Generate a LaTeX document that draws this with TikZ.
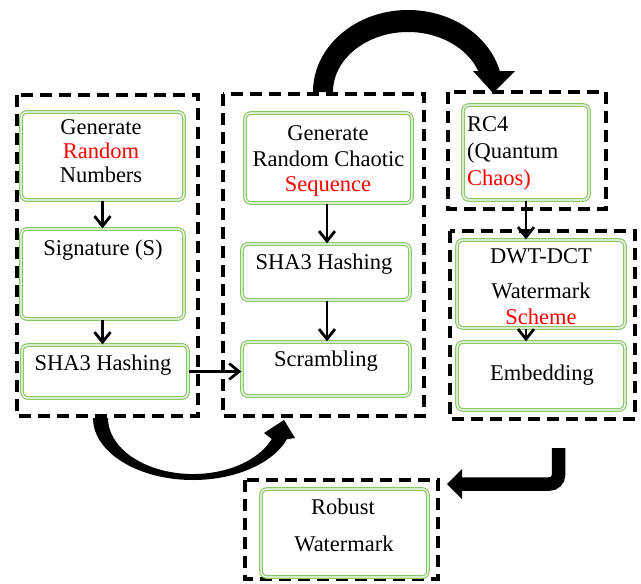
\documentclass[tikz,border=0pt]{standalone}
\usepackage{fontspec}
\setmainfont{Liberation Serif}
\usetikzlibrary{arrows.meta}
\definecolor{boxgreen}{RGB}{140,200,105}
\definecolor{hlred}{RGB}{255,0,0}
\begin{document}
\begin{tikzpicture}[x=1pt,y=-1pt,
  stage/.style={draw=black, line width=4pt, dash pattern=on 12pt off 7pt},
  gbox/.style={draw=boxgreen, double=white, line width=1.3pt, double distance=1.2pt,
               rounded corners=6pt, inner sep=0pt},
  txt/.style={font=\fontsize{22.5}{27}\selectfont, inner sep=0pt, anchor=base},
  hot/.style={txt, text=hlred},
  flow/.style={draw=black, line width=2.8pt, -{Straight Barb[length=10pt,width=16pt]}},
  block/.style={fill=black, draw=none}
]
\useasboundingbox (0,0) rectangle (641,584);

% dashed stage frames
\draw[stage] (17,95) rectangle (198,416);
\draw[stage] (223,94) rectangle (424,416);
\draw[stage] (448,92) rectangle (606,209);
\draw[stage] (450,231) rectangle (635,419);
\draw[stage] (245,480) rectangle (438,579);

% green process boxes
\node[gbox, minimum width=163pt, minimum height=88pt] (g1a) at (102.5,156) {};
\node[gbox, minimum width=163pt, minimum height=90pt] (g1b) at (102.5,274) {};
\node[gbox, minimum width=166pt, minimum height=53pt] (g1c) at (105,371.5) {};
\node[gbox, minimum width=167pt, minimum height=90pt] (g2a) at (328.5,158) {};
\node[gbox, minimum width=168pt, minimum height=56pt] (g2b) at (326,272) {};
\node[gbox, minimum width=168pt, minimum height=54pt] (g2c) at (326,369) {};
\node[gbox, minimum width=126pt, minimum height=95pt] (g3)  at (526,152.5) {};
\node[gbox, minimum width=168pt, minimum height=88pt] (g4a) at (541,284) {};
\node[gbox, minimum width=168pt, minimum height=68pt] (g4b) at (541,376) {};
\node[gbox, minimum width=167pt, minimum height=88pt] (g5)  at (344.5,533) {};

% box texts
\node[txt] (t1a1) at (101,134) {Generate};
\node[hot] (t1a2) at (101,158) {Random};
\node[txt] (t1a3) at (101,182) {Numbers};
\node[txt] (t1b)  at (103,255) {Signature (S)};
\node[txt] (t1c)  at (103,370) {SHA3 Hashing};

\node[txt] (t2a1) at (328,140) {Generate};
\node[txt] (t2a2) at (328.5,166) {Random Chaotic};
\node[hot] (t2a3) at (328,191) {Sequence};
\node[txt] (t2b)  at (324,269) {SHA3 Hashing};
\node[txt] (t2c)  at (326,366) {Scrambling};

\node[txt, anchor=base west] (t31) at (467,131) {RC4};
\node[txt, anchor=base west] (t32) at (467,158) {(Quantum};
\node[hot, anchor=base west] (t33) at (467,185) {Chaos)};

\node[txt] (t4a1) at (541,263) {DWT-DCT};
\node[txt] (t4a2) at (541,298) {Watermark};
\node[hot] (t4a3) at (541,324) {Scheme};
\node[txt] (t4b)  at (542,380) {Embedding};

\node[txt] (t51) at (343,514) {Robust};
\node[txt] (t52) at (344,551) {Watermark};

% small flow arrows
\draw[flow] (g1a.south) -- (g1b.north);
\draw[flow] (g1b.south) -- (g1c.north -| g1b.south);
\draw[flow] (g2a.south -| 327,0) -- (g2b.north -| 327,0);
\draw[flow] (g2b.south -| 327,0) -- (g2c.north -| 327,0);
\draw[flow] (g1c.east) -- (g1c.east -| g2c.west);
\draw[flow] (g3.south) -- (g4a.north -| g3.south);
\draw[flow] (g4a.south -| g3.south) -- (g4b.north -| g3.south);

% big curved arrow over the top
\path[block] (313,92) arc[start angle=180, end angle=345.2, x radius=95, y radius=82]
  -- (515,71) -- (493,93) -- (473,71) -- (478.2,71)
  arc[start angle=339.5, end angle=180, x radius=75, y radius=60] -- cycle;

% big curved arrow underneath
\path[block] (93,418) arc[start angle=180, end angle=20, x radius=100, y radius=62]
  -- (295,438) -- (284,420) -- (264,433) -- (271.8,439)
  arc[start angle=22, end angle=180, x radius=85, y radius=56] -- cycle;

% bent arrow to the result
\draw[line width=13.5pt, rounded corners=9pt] (558.5,448) -- (558.5,484) -- (461,484);
\path[block] (462,469) -- (447,484) -- (462,499) -- cycle;
\end{tikzpicture}
\end{document}
